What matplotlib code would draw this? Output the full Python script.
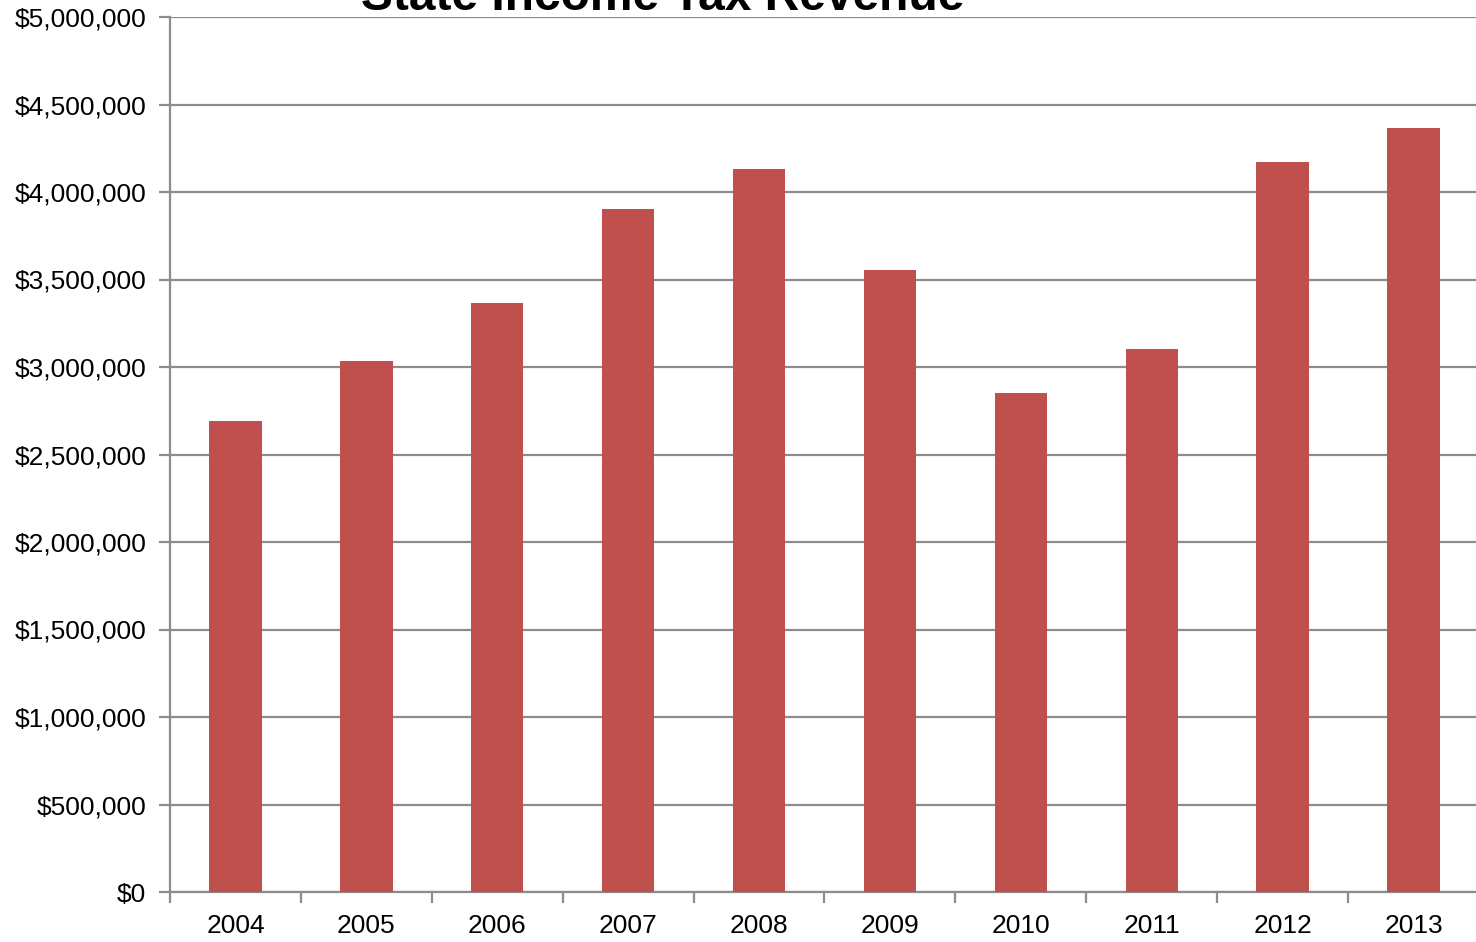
import matplotlib.pyplot as plt
from matplotlib.ticker import FuncFormatter, MultipleLocator

plt.rcParams['font.family'] = ['Liberation Sans', 'DejaVu Sans']

# yearly state income tax revenue (dollars)
years = ['2004', '2005', '2006', '2007', '2008', '2009', '2010', '2011', '2012', '2013']
revenue = [2690000, 3035000, 3368000, 3905000, 4133000, 3556000, 2853000, 3105000, 4172000, 4366000]

W, H = 1476, 942
fig = plt.figure(figsize=(W / 100, H / 100), dpi=100)
ax = fig.add_axes([170 / W, (H - 892) / H, (W - 170) / W + 0.002, (892 - 17) / H])

x = range(len(years))
ax.bar(x, revenue, width=0.4, color='#C0504D', zorder=3)

ax.set_xlim(-0.5, len(years) - 0.5)
ax.set_ylim(0, 5000000)
ax.yaxis.set_major_locator(MultipleLocator(500000))
ax.yaxis.set_major_formatter(FuncFormatter(lambda v, p: '${:,.0f}'.format(v)))
ax.grid(axis='y', color='#8C8C8C', linewidth=1.6, zorder=0)

# category labels centred under bars, tick marks on the category boundaries
ax.set_xticks(list(x))
ax.set_xticklabels(years)
ax.set_xticks([i - 0.5 for i in range(len(years) + 1)], minor=True)
ax.tick_params(axis='x', which='major', length=0, labelsize=19, pad=16)
ax.tick_params(axis='x', which='minor', length=8, width=1.6, color='#8C8C8C')
ax.tick_params(axis='y', length=8, width=1.6, color='#8C8C8C', labelsize=19, pad=9)

for side in ['top', 'right']:
    ax.spines[side].set_visible(False)
for side in ['left', 'bottom']:
    ax.spines[side].set_color('#8C8C8C')
    ax.spines[side].set_linewidth(1.6)

fig.text(663 / W, (H - 10) / H, 'State Income Tax Revenue', ha='center', va='baseline',
         fontsize=34.5, fontweight='bold')

fig.savefig('out.png', dpi=100)
